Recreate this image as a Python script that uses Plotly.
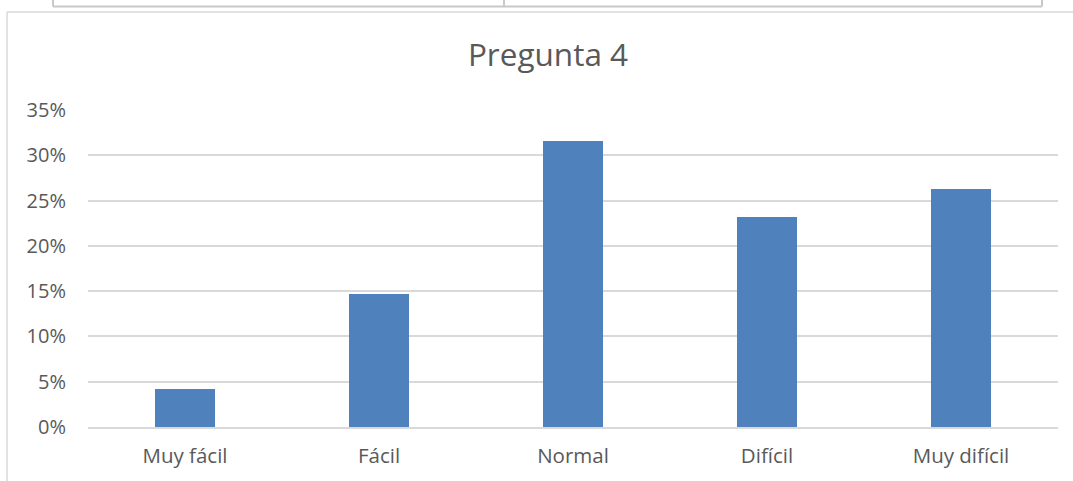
import plotly.graph_objects as go

# Survey results for question 4 (share of respondents per difficulty level)
categories = ["Muy fácil", "Fácil", "Normal", "Difícil", "Muy difícil"]
shares = [0.042, 0.147, 0.316, 0.232, 0.263]
y_ticks = [0, 0.05, 0.10, 0.15, 0.20, 0.25, 0.30, 0.35]
y_tick_labels = ["0%", "5%", "10%", "15%", "20%", "25%", "30%", "35%"]

W, H = 1073, 481
L, R, T, B = 88, 15, 110, 54
FONT = "Open Sans"
TEXT = "#595959"
LINE = "#d9d9d9"


def px_x(x):
    return (x - L) / (W - L - R)


def px_y(y):
    return 1 - (y - T) / (H - T - B)


fig = go.Figure(
    go.Bar(
        x=categories,
        y=shares,
        marker=dict(color="#4f81bd", line=dict(width=0)),
        width=0.314,
        hoverinfo="x+y",
    )
)

shapes = []
# outer frame of the chart object (left and top edges)
shapes.append(dict(type="line", xref="paper", yref="paper",
                   x0=px_x(7), x1=px_x(W + 5), y0=px_y(12), y1=px_y(12),
                   line=dict(color=LINE, width=1.5)))
shapes.append(dict(type="line", xref="paper", yref="paper",
                   x0=px_x(7), x1=px_x(7), y0=px_y(12), y1=px_y(H + 5),
                   line=dict(color=LINE, width=1.5)))
# bottom edge of the document table above the chart
for x in (53, 504, 1042):
    shapes.append(dict(type="line", xref="paper", yref="paper",
                       x0=px_x(x), x1=px_x(x), y0=px_y(-5), y1=px_y(6.5),
                       line=dict(color="#c8c8c8", width=2)))
shapes.append(dict(type="line", xref="paper", yref="paper",
                   x0=px_x(53), x1=px_x(1042), y0=px_y(6.5), y1=px_y(6.5),
                   line=dict(color="#c8c8c8", width=2)))

fig.update_layout(
    width=W,
    height=H,
    margin=dict(l=L, r=R, t=T, b=B),
    paper_bgcolor="white",
    plot_bgcolor="white",
    showlegend=False,
    bargap=0,
    font=dict(family=FONT, color=TEXT),
    title=dict(
        text="Pregunta 4",
        x=548 / W,
        xanchor="center",
        xref="container",
        y=1 - 55 / H,
        yanchor="middle",
        yref="container",
        font=dict(family=FONT, size=31.5, color=TEXT),
    ),
    xaxis=dict(
        showgrid=False,
        showline=True,
        linecolor=LINE,
        linewidth=1.5,
        ticks="",
        tickfont=dict(family=FONT, size=20.5, color=TEXT),
        ticklabelstandoff=10,
        fixedrange=True,
    ),
    yaxis=dict(
        range=[0, 0.35],
        tickvals=y_ticks,
        ticktext=y_tick_labels,
        showgrid=True,
        gridcolor=LINE,
        gridwidth=1.5,
        zeroline=False,
        showline=False,
        ticks="",
        tickfont=dict(family=FONT, size=20, color=TEXT),
        ticklabelstandoff=21,
        fixedrange=True,
    ),
    shapes=shapes,
)

fig.write_html("out.html")
